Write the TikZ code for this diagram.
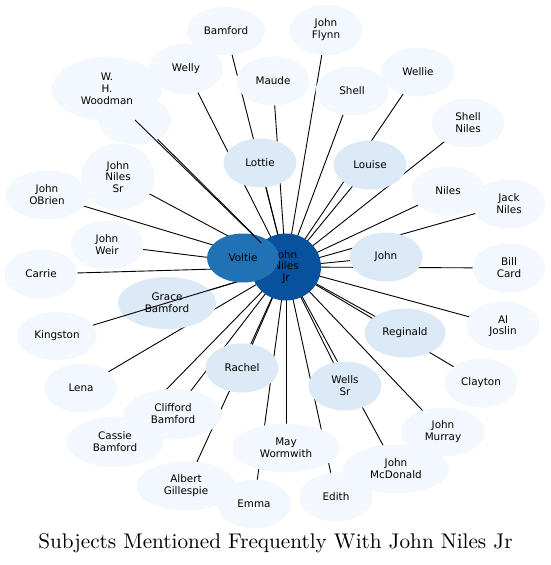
\documentclass[tikz,border=0pt]{standalone}
\usepackage{fontspec}
\newfontfamily\lab{DejaVu Sans}
\usetikzlibrary{shapes.geometric}
\definecolor{lightn}{HTML}{F3F8FE}
\definecolor{midn}{HTML}{DCE9F6}
\definecolor{voltc}{HTML}{2171B5}
\definecolor{jnjc}{HTML}{08519C}
\pgfdeclarelayer{edgesL}
\pgfdeclarelayer{lightL}
\pgfdeclarelayer{kingL}
\pgfdeclarelayer{overL}
\pgfsetlayers{edgesL,lightL,kingL,main,overL}
\begin{document}
\begin{tikzpicture}[x=1pt,y=-1pt,
  nd/.style={ellipse, inner sep=0pt, align=center, font=\lab\fontsize{10.4}{11.8}\selectfont,
    text=black, minimum width=73pt, minimum height=49pt, fill=lightn},
  mid/.style={nd, fill=midn},
  link/.style={line width=0.9pt, black}]
\useasboundingbox (0,0) rectangle (551,565);
\begin{pgfonlayer}{lightL}
\node[nd] (hid) at (135,120) {};
\node[nd, minimum width=110pt, minimum height=64pt] (woodman) at (107,89) {W.\\H.\\Woodman};
\node[nd, minimum width=78pt, minimum height=48pt] (bamford) at (226,31) {Bamford};
\node[nd, minimum height=50pt] (flynn) at (326,30) {John\\Flynn};
\node[nd, minimum height=50pt] (welly) at (186,69) {Welly};
\node[nd] (maude) at (273,81) {Maude};
\node[nd] (shell) at (352,91) {Shell};
\node[nd] (wellie) at (418,72) {Wellie};
\node[nd] (shellniles) at (468,123) {Shell\\Niles};
\node[mid] (lottie) at (260,163) {Lottie};
\node[mid] (louise) at (370,165) {Louise};
\node[nd, minimum height=67pt] (nilessr) at (118,177) {John\\Niles\\Sr};
\node[nd] (niles) at (448,191) {Niles};
\node[nd] (jackniles) at (509,204) {Jack\\Niles};
\node[nd, minimum width=83pt] (obrien) at (47,195) {John\\OBrien};
\node[nd] (weir) at (107,245) {John\\Weir};
\node[mid] (john) at (386,257) {John};
\node[nd] (billcard) at (509,268) {Bill\\Card};
\node[nd] (carrie) at (41,274) {Carrie};
\node[mid, minimum width=98pt, minimum height=52pt] (grace) at (167,303) {Grace\\Bamford};
\node[nd, minimum width=80pt, minimum height=48pt] (kingston) at (57,336) {Kingston};
\node[mid, minimum width=81pt] (reginald) at (405,333) {Reginald};
\node[nd] (aljoslin) at (503,326) {Al\\Joslin};
\node[mid] (rachel) at (242,368) {Rachel};
\node[mid] (wellssr) at (345,386) {Wells\\Sr};
\node[nd] (clayton) at (481,383) {Clayton};
\node[nd] (lena) at (81,388) {Lena};
\node[nd, minimum width=97pt, minimum height=50pt] (cassie) at (115,442) {Cassie\\Bamford};
\node[nd, minimum width=98pt, minimum height=50pt] (clifford) at (173,414) {Clifford\\Bamford};
\node[nd, minimum width=84pt] (murray) at (443,432) {John\\Murray};
\node[nd, minimum width=108pt] (may) at (286,448) {May\\Wormwith};
\node[nd, minimum width=106pt] (mcdonald) at (396,469) {John\\McDonald};
\node[nd, minimum width=99pt] (albert) at (186,486) {Albert\\Gillespie};
\node[nd] (edith) at (336,497) {Edith};
\node[nd] (emma) at (254,504) {Emma};
\end{pgfonlayer}
\node[nd, fill=jnjc, minimum width=70pt, minimum height=67pt] (jnj) at (286,267) {John\\Niles\\Jr};
\node[nd, fill=voltc, minimum width=72pt, minimum height=49pt] (voltie) at (243,258) {Voltie};
\begin{pgfonlayer}{edgesL}
\foreach \n in {woodman,bamford,flynn,welly,maude,shell,wellie,shellniles,lottie,louise,
  nilessr,niles,jackniles,obrien,weir,john,billcard,carrie,grace,reginald,aljoslin,
  rachel,wellssr,clayton,lena,cassie,clifford,murray,may,mcdonald,albert,edith,emma,voltie}
  \draw[link] (jnj.center) -- (\n.center);
\end{pgfonlayer}
\begin{pgfonlayer}{kingL}
\draw[link] (kingston) -- (jnj);
\end{pgfonlayer}
\begin{pgfonlayer}{overL}
\draw[link] (hid.center) -- (jnj);
\end{pgfonlayer}
\node[scale=2.12, inner sep=0pt] (title) at (275.5,543) {\fontsize{10}{12}\selectfont Subjects Mentioned Frequently With John Niles Jr};
\end{tikzpicture}
\end{document}
